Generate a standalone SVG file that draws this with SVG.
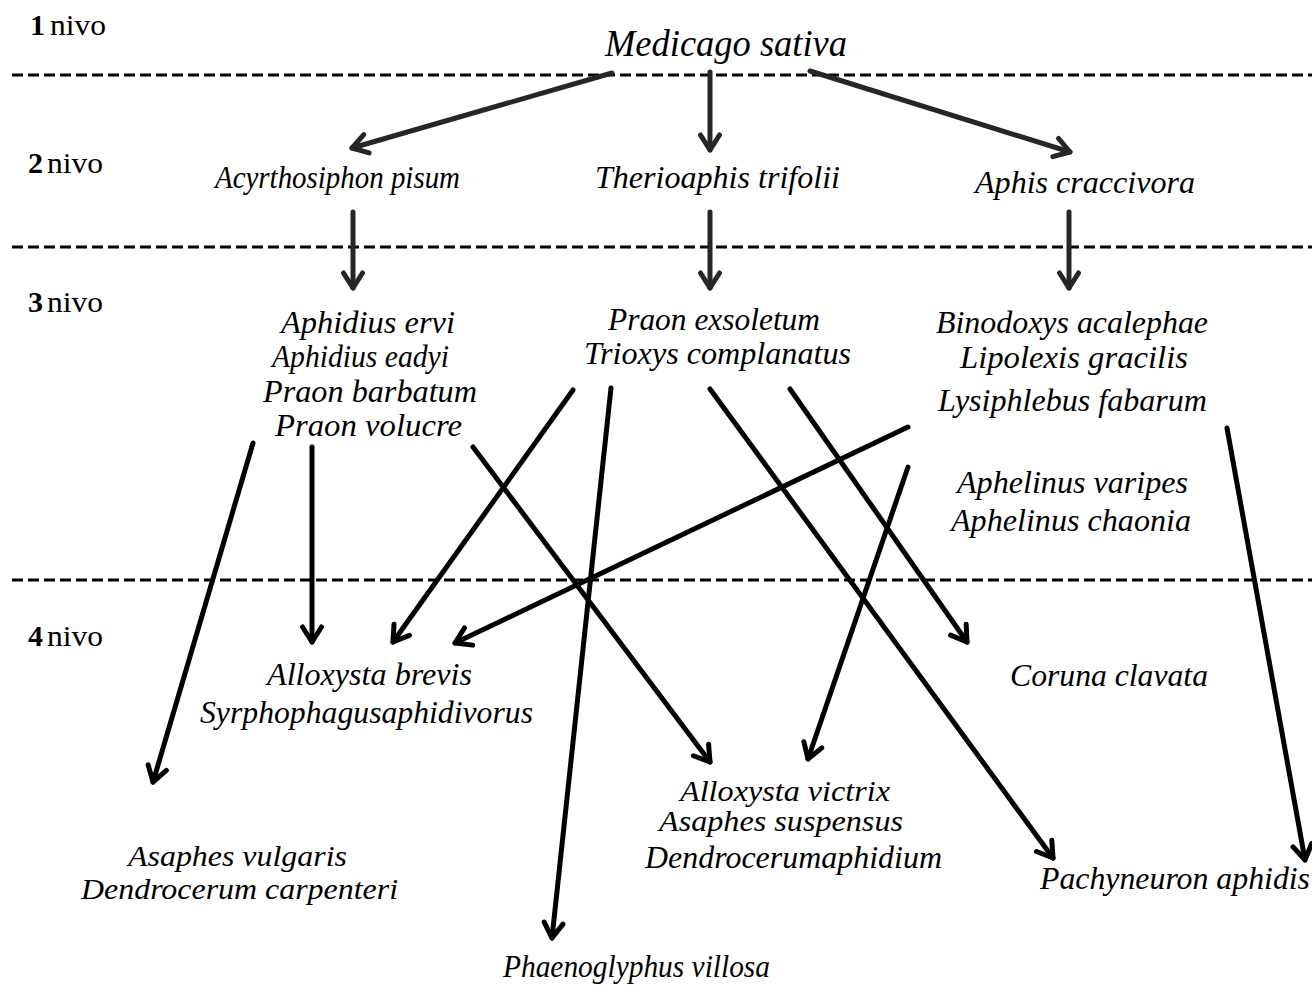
<svg xmlns="http://www.w3.org/2000/svg" width="1312" height="990" viewBox="0 0 1312 990">
<style>
.sp{font-family:"Liberation Serif","Times New Roman",serif;font-style:italic;font-size:32px;fill:#000}
.sm{font-size:29px}
.lv{font-family:"Liberation Serif","Times New Roman",serif;font-size:30px;fill:#000}
.lv .n{font-weight:bold}
.dash{stroke:#000;stroke-width:3;stroke-dasharray:11 5;fill:none}
.a1{stroke:#262626;stroke-width:5;stroke-linecap:round;fill:none;marker-end:url(#ah1)}
.a2{stroke:#000;stroke-width:5;stroke-linecap:round;fill:none;marker-end:url(#ah2)}
</style>
<defs>
<marker id="ah1" viewBox="-20 -14 26 28" markerWidth="26" markerHeight="28" refX="0" refY="0" orient="auto" markerUnits="userSpaceOnUse">
<path d="M-15,-9.5 L0,0 L-15,9.5" fill="none" stroke="#262626" stroke-width="5" stroke-linecap="round" stroke-linejoin="round"/>
</marker>
<marker id="ah2" viewBox="-20 -14 26 28" markerWidth="26" markerHeight="28" refX="0" refY="0" orient="auto" markerUnits="userSpaceOnUse">
<path d="M-15,-9.5 L0,0 L-15,9.5" fill="none" stroke="#000" stroke-width="5" stroke-linecap="round" stroke-linejoin="round"/>
</marker>
</defs>
<rect width="1312" height="990" fill="#fff"/>
<g id="levels">
<line class="dash" x1="12" y1="75" x2="1312" y2="75"/>
<line class="dash" x1="12" y1="247" x2="1312" y2="247"/>
<line class="dash" x1="12" y1="580" x2="1312" y2="580"/>
<text class="lv" x="30" y="35"><tspan class="n">1</tspan><tspan x="50" textLength="56" lengthAdjust="spacingAndGlyphs">nivo</tspan></text>
<text class="lv" x="28" y="173"><tspan class="n">2</tspan><tspan x="47" textLength="56" lengthAdjust="spacingAndGlyphs">nivo</tspan></text>
<text class="lv" x="28" y="312"><tspan class="n">3</tspan><tspan x="47" textLength="56" lengthAdjust="spacingAndGlyphs">nivo</tspan></text>
<text class="lv" x="28" y="646"><tspan class="n">4</tspan><tspan x="47" textLength="56" lengthAdjust="spacingAndGlyphs">nivo</tspan></text>
</g>
<g id="n-medicago"><text class="sp" style="font-size:38px" x="605" y="56" textLength="242" lengthAdjust="spacingAndGlyphs">Medicago sativa</text></g>
<g id="n-acyrthosiphon"><text class="sp" x="215" y="188" textLength="245" lengthAdjust="spacingAndGlyphs">Acyrthosiphon pisum</text></g>
<g id="n-therioaphis"><text class="sp" x="595" y="188" textLength="245" lengthAdjust="spacingAndGlyphs">Therioaphis trifolii</text></g>
<g id="n-aphis"><text class="sp" x="975" y="193" textLength="220" lengthAdjust="spacingAndGlyphs">Aphis craccivora</text></g>
<g id="n-aphidius">
<text class="sp" x="281" y="333" textLength="174" lengthAdjust="spacingAndGlyphs">Aphidius ervi</text>
<text class="sp" x="272" y="367" textLength="177" lengthAdjust="spacingAndGlyphs">Aphidius eadyi</text>
<text class="sp" x="263" y="402" textLength="214" lengthAdjust="spacingAndGlyphs">Praon barbatum</text>
<text class="sp" x="275" y="436" textLength="187" lengthAdjust="spacingAndGlyphs">Praon volucre</text>
</g>
<g id="n-praon">
<text class="sp" x="608" y="330" textLength="212" lengthAdjust="spacingAndGlyphs">Praon exsoletum</text>
<text class="sp" x="584" y="364" textLength="267" lengthAdjust="spacingAndGlyphs">Trioxys complanatus</text>
</g>
<g id="n-binodoxys">
<text class="sp" x="936" y="333" textLength="272" lengthAdjust="spacingAndGlyphs">Binodoxys acalephae</text>
<text class="sp" x="960" y="368" textLength="228" lengthAdjust="spacingAndGlyphs">Lipolexis gracilis</text>
<text class="sp" x="938" y="411" textLength="269" lengthAdjust="spacingAndGlyphs">Lysiphlebus fabarum</text>
</g>
<g id="n-aphelinus">
<text class="sp" x="957" y="493" textLength="231" lengthAdjust="spacingAndGlyphs">Aphelinus varipes</text>
<text class="sp" x="951" y="531" textLength="240" lengthAdjust="spacingAndGlyphs">Aphelinus chaonia</text>
</g>
<g id="n-alloxysta-brevis">
<text class="sp" x="267" y="685" textLength="205" lengthAdjust="spacingAndGlyphs">Alloxysta brevis</text>
<text class="sp" x="200" y="723" textLength="333" lengthAdjust="spacingAndGlyphs">Syrphophagusaphidivorus</text>
</g>
<g id="n-coruna"><text class="sp" x="1010" y="686" textLength="198" lengthAdjust="spacingAndGlyphs">Coruna clavata</text></g>
<g id="n-alloxysta-victrix">
<text class="sp sm" x="680" y="801" textLength="210" lengthAdjust="spacingAndGlyphs">Alloxysta victrix</text>
<text class="sp sm" x="659" y="831" textLength="244" lengthAdjust="spacingAndGlyphs">Asaphes suspensus</text>
<text class="sp" x="645" y="868" textLength="297" lengthAdjust="spacingAndGlyphs">Dendrocerumaphidium</text>
</g>
<g id="n-pachyneuron"><text class="sp" x="1040" y="889" textLength="270" lengthAdjust="spacingAndGlyphs">Pachyneuron aphidis</text></g>
<g id="n-asaphes">
<text class="sp sm" x="128" y="866" textLength="219" lengthAdjust="spacingAndGlyphs">Asaphes vulgaris</text>
<text class="sp sm" x="81" y="899" textLength="317" lengthAdjust="spacingAndGlyphs">Dendrocerum carpenteri</text>
</g>
<g id="n-phaenoglyphus"><text class="sp" x="503" y="977" textLength="267" lengthAdjust="spacingAndGlyphs">Phaenoglyphus villosa</text></g>
<g id="connectors">
<line class="a1" x1="612" y1="73" x2="352" y2="148"/>
<line class="a1" x1="710" y1="72" x2="710" y2="150"/>
<line class="a1" x1="810" y1="71" x2="1070" y2="152"/>
<line class="a1" x1="353" y1="212" x2="353" y2="288"/>
<line class="a1" x1="710" y1="212" x2="710" y2="288"/>
<line class="a1" x1="1069" y1="212" x2="1069" y2="288"/>
<line class="a2" x1="253" y1="443" x2="153" y2="782"/>
<line class="a2" x1="312" y1="447" x2="312" y2="642"/>
<line class="a2" x1="573" y1="390" x2="393" y2="642"/>
<line class="a2" x1="611" y1="388" x2="552" y2="938"/>
<line class="a2" x1="473" y1="447" x2="710" y2="762"/>
<line class="a2" x1="908" y1="427" x2="455" y2="643"/>
<line class="a2" x1="710" y1="389" x2="1053" y2="858"/>
<line class="a2" x1="790" y1="389" x2="967" y2="642"/>
<line class="a2" x1="908" y1="467" x2="808" y2="759"/>
<line class="a2" x1="1227" y1="428" x2="1305" y2="860"/>
</g>
</svg>
